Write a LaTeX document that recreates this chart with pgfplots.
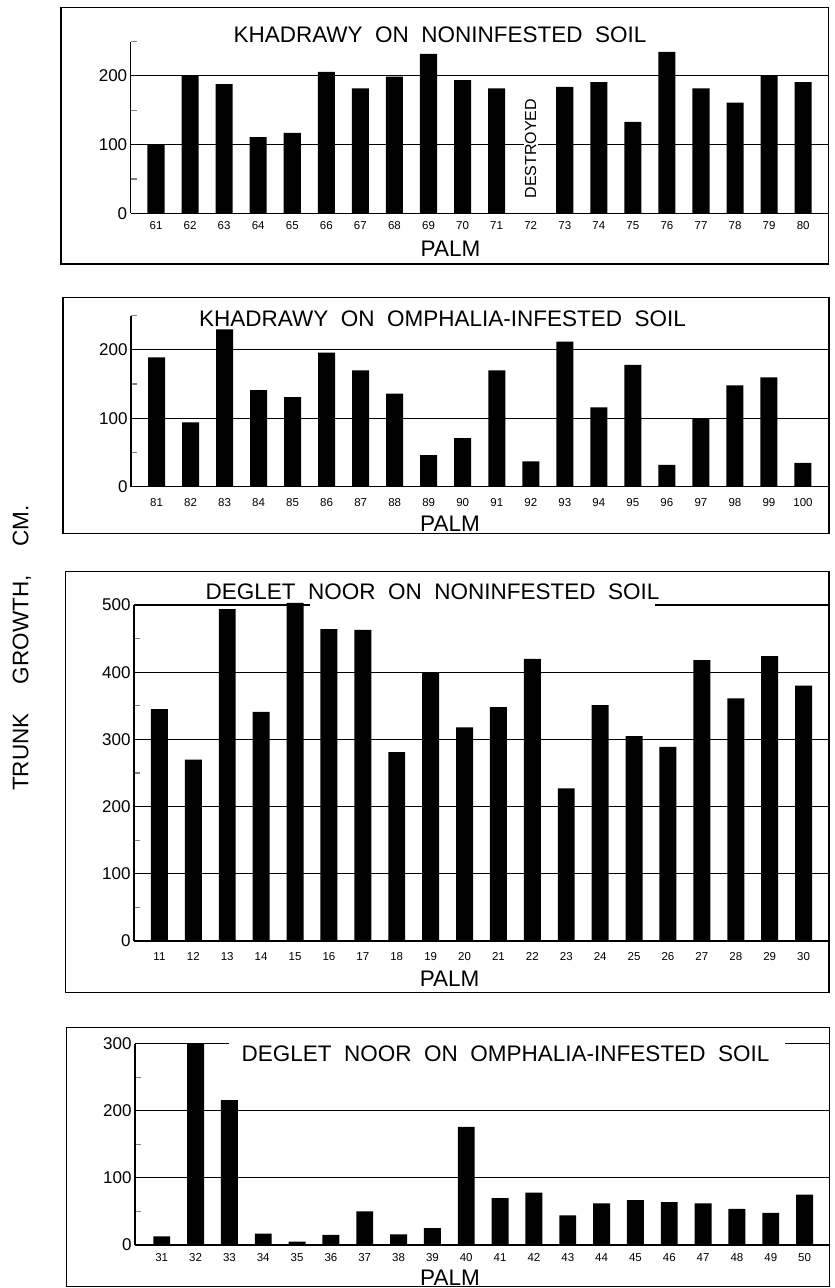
\documentclass[border=0pt]{standalone}
\usepackage{fontspec}
\setmainfont{Liberation Sans}
\newfontfamily\lett{Liberation Sans}[WordSpace=2]
\usepackage{pgfplots}
\usepackage{pgfplotstable}
\pgfplotsset{compat=1.18}

\pgfplotstableread{
i v
0 100
1 200
2 188
3 111
4 117
5 206
6 182
7 199
8 232
9 194
10 182
12 184
13 191
14 133
15 235
16 182
17 161
18 200
19 191
}\khnon

\pgfplotstableread{
i v
0 189
1 94
2 230
3 141
4 131
5 196
6 170
7 136
8 46
9 71
10 170
11 37
12 212
13 116
14 178
15 32
16 99
17 148
18 160
19 35
}\khom

\pgfplotstableread{
i v
0 345
1 270
2 494
3 341
4 503
5 464
6 463
7 281
8 399
9 318
10 348
11 420
12 227
13 351
14 305
15 289
16 418
17 361
18 424
19 380
}\dnnon

\pgfplotstableread{
i v
0 13
1 300
2 216
3 17
4 5
5 15
6 50
7 16
8 25
9 176
10 70
11 78
12 44
13 62
14 67
15 64
16 62
17 54
18 48
19 75
}\dnom

\pgfplotsset{
  palm/.style={
    scale only axis, anchor=south west,
    axis lines*=left,
    axis line style={line width=1.4pt},
    ymin=0, enlargelimits=false, clip=false,
    xtick={0,...,19},
    xtick style={draw=none},
    tick align=inside,
    major tick length=0pt,
    minor tick length=6pt,
    minor tick style={line width=1.2pt},
    ymajorgrids,
    grid style={line width=1.1pt, black},
    /pgf/number format/assume math mode=true,
    yticklabel style={font=\fontsize{17}{17}\selectfont},
    xticklabel style={font=\fontsize{11.5}{12}\selectfont},
  },
  bars/.style={ybar, fill=black, draw=none, bar width=0.5},
}

\begin{document}
\begin{tikzpicture}
\path[use as bounding box] (0pt,0pt) rectangle (835pt,1288pt);

% Panel 1
\begin{axis}[palm, at={(130.7pt,1074.7pt)}, width=697.8pt, height=171.75pt,
  xmin=-0.743, xmax=19.743, ymax=250,
  ytick={0,100,200}, minor ytick={50,150,250},
  xticklabels={61,62,63,64,65,66,67,68,69,70,71,72,73,74,75,76,77,78,79,80},
  xticklabel style={yshift=-5pt}]
\addplot[bars] table[x=i,y=v]{\khnon};
\node[rotate=90, font=\fontsize{16}{16}\selectfont, fill=white, inner sep=1.5pt] at (axis cs:11,94) {DESTROYED};
\end{axis}

% Panel 2
\begin{axis}[palm, at={(131pt,801.3pt)}, width=697.5pt, height=171pt,
  xmin=-0.75, xmax=19.75, ymax=250,
  ytick={0,100,200}, minor ytick={50,150,250},
  xticklabels={81,82,83,84,85,86,87,88,89,90,91,92,93,94,95,96,97,98,99,100},
  xticklabel style={yshift=-8.5pt}]
\addplot[bars] table[x=i,y=v]{\khom};
\end{axis}

% Panel 3
\begin{axis}[palm, at={(134pt,347pt)}, width=695pt, height=336pt,
  xmin=-0.75, xmax=19.75, ymax=500,
  ytick={0,100,200,300,400}, extra y ticks={500}, extra y tick style={grid=none},
  minor ytick={50,150,250,350,450},
  xticklabels={11,12,13,14,15,16,17,18,19,20,21,22,23,24,25,26,27,28,29,30},
  xticklabel style={yshift=-8pt}]
\addplot[bars] table[x=i,y=v]{\dnnon};
\draw[line width=1.1pt] (axis cs:-0.75,500) -- (axis cs:4.45,500);
\draw[line width=1.1pt] (axis cs:14.62,500) -- (axis cs:19.75,500);
\end{axis}

% Panel 4
\begin{axis}[palm, at={(135pt,43pt)}, width=694.3pt, height=201.3pt,
  xmin=-0.79, xmax=19.73, ymax=300,
  ytick={0,100,200}, extra y ticks={300}, extra y tick style={grid=none},
  minor ytick={50,150,250},
  xticklabels={31,32,33,34,35,36,37,38,39,40,41,42,43,44,45,46,47,48,49,50},
  xticklabel style={yshift=-5pt}]
\addplot[bars] table[x=i,y=v]{\dnom};
\draw[line width=1.1pt] (axis cs:-0.79,300) -- (axis cs:2.0,300);
\draw[line width=1.1pt] (axis cs:18.42,300) -- (axis cs:19.73,300);
\end{axis}

% panel frames
\draw[line width=1.4pt] (61pt,1280.7pt) rectangle (828.5pt,1024pt);
\draw[line width=1.4pt] (63pt,990.3pt) rectangle (829pt,754.7pt);
\draw[line width=1.4pt] (65.5pt,716.3pt) rectangle (829pt,295.3pt);
\draw[line width=1.4pt] (66.7pt,260.3pt) rectangle (829.5pt,1.5pt);

% titles
\begin{scope}[every node/.style={font=\lett\fontsize{22.5}{22.5}\selectfont, inner sep=0pt}]
\node at (440pt,1253.5pt) {KHADRAWY ON NONINFESTED SOIL};
\node at (442.6pt,969pt) {KHADRAWY ON OMPHALIA-INFESTED SOIL};
\node at (432.6pt,696pt) {DEGLET NOOR ON NONINFESTED SOIL};
\node at (505.5pt,234pt) {DEGLET NOOR ON OMPHALIA-INFESTED SOIL};
\node at (450.5pt,1039pt) {PALM};
\node at (450pt,764pt) {PALM};
\node at (449.6pt,309pt) {PALM};
\node at (450pt,10.5pt) {PALM};
\node[rotate=90] at (22pt,640pt) {TRUNK\hspace{1.3em}GROWTH,\hspace{1.3em}CM.};
\end{scope}
\end{tikzpicture}
\end{document}
